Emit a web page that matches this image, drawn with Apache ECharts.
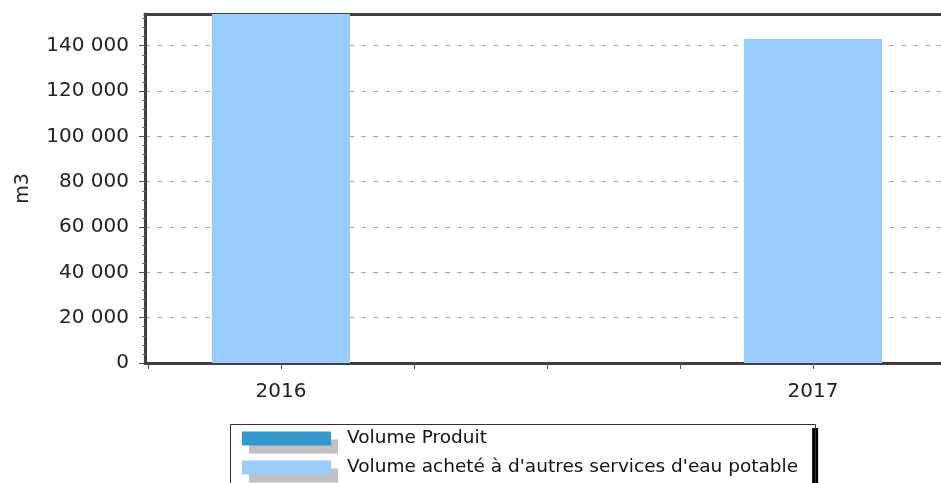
<!DOCTYPE html>
<html>
<head>
<meta charset="utf-8">
<script src="https://cdn.jsdelivr.net/npm/echarts@6/dist/echarts.min.js"></script>
<style>
html,body{margin:0;padding:0;background:#fff;overflow:hidden;}
#chart{width:941px;height:483px;}
</style>
</head>
<body>
<div id="chart"></div>
<script>
// Data
var years = [2016, 2017];
var seriesNames = ['Volume Produit', "Volume acheté à d'autres services d'eau potable"];
var volumeProduit = [0, 0];
var volumeAchete = [160000, 143000];
var yTicks = [0, 20000, 40000, 60000, 80000, 100000, 120000, 140000];
var xTicks = [2015.75, 2016, 2016.25, 2016.5, 2016.75, 2017, 2017.25];
var yUnit = 'm3';

function fmt(v) {
  return String(Math.round(v)).replace(/\B(?=(\d{3})+(?!\d))/g, ' ');
}

var X_MIN = 2015.7444, X_MAX = 2017.2406;
var chart = echarts.init(document.getElementById('chart'), null, {renderer: 'canvas'});
var axisFont = 'DejaVu Sans';
chart.setOption({
  animation: false,
  backgroundColor: '#fff',
  grid: {left: 145, top: 14, right: 0, bottom: 120, show: false},
  legend: {
    orient: 'vertical',
    left: 229, top: 422, height: 300,
    padding: [7, 14, 20, 13],
    itemWidth: 89, itemHeight: 14, itemGap: 10,
    backgroundColor: '#fff',
    borderWidth: 0,
    shadowColor: '#000', shadowBlur: 0, shadowOffsetX: 6, shadowOffsetY: 6,
    icon: 'rect',
    itemStyle: {shadowColor: '#c0c0c0', shadowBlur: 0, shadowOffsetX: 7, shadowOffsetY: 8},
    textStyle: {fontFamily: axisFont, fontSize: 18.5, color: '#111', lineHeight: 14, padding: [0, 0, 0, 11]},
    selectedMode: false,
    data: seriesNames
  },
  graphic: [{
    type: 'rect', left: 228, top: 422, z: 100, silent: true,
    shape: {width: 585, height: 90},
    style: {fill: 'none', stroke: '#333', lineWidth: 1}
  }],
  xAxis: [{
    type: 'value',
    min: X_MIN, max: X_MAX,
    axisLine: {show: true, onZero: false, lineStyle: {color: '#404040', width: 3}},
    axisTick: {show: true, length: 6, lineStyle: {color: '#555', width: 1}, customValues: xTicks},
    axisLabel: {customValues: years, formatter: function (v) { return String(Math.round(v)); },
      fontFamily: axisFont, fontSize: 20, color: '#222', margin: 19},
    splitLine: {show: false}
  }, {
    type: 'value', position: 'top',
    min: X_MIN, max: X_MAX,
    axisLine: {show: true, onZero: false, lineStyle: {color: '#404040', width: 3}},
    axisTick: {show: false}, axisLabel: {show: false}, splitLine: {show: false}
  }],
  yAxis: {
    type: 'value',
    min: 0, max: 154000, interval: 20000,
    name: yUnit, nameLocation: 'middle', nameGap: 112, nameRotate: 90, nameMoveOverlap: false,
    nameTextStyle: {fontFamily: axisFont, fontSize: 19, color: '#222'},
    axisLine: {show: true, lineStyle: {color: '#404040', width: 3}},
    axisTick: {show: true, length: 6, lineStyle: {color: '#555', width: 1}, customValues: yTicks},
    minorTick: {show: true, splitNumber: 5, length: 3, lineStyle: {color: '#777', width: 1}},
    axisLabel: {customValues: yTicks, formatter: fmt, fontFamily: axisFont, fontSize: 20, color: '#222', margin: 16},
    splitLine: {show: true, lineStyle: {color: '#aaa', type: [5, 7], width: 1}}
  },
  series: [
    {
      name: seriesNames[0], type: 'bar', barWidth: 138, barGap: '-100%',
      itemStyle: {color: '#3399cc'},
      data: years.map(function (y, i) { return [y, volumeProduit[i]]; })
    },
    {
      name: seriesNames[1], type: 'bar', barWidth: 138, barGap: '-100%',
      itemStyle: {color: '#99ccff'},
      data: years.map(function (y, i) { return [y, volumeAchete[i]]; })
    }
  ]
});
</script>
</body>
</html>
